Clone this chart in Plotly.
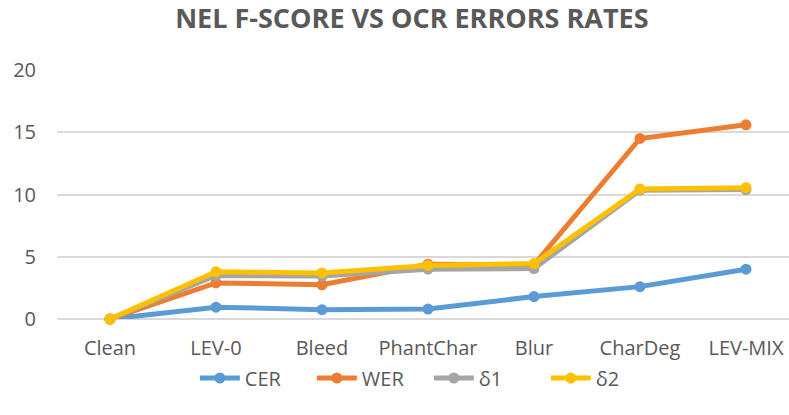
import plotly.graph_objects as go

categories = ["Clean", "LEV-0", "Bleed", "PhantChar", "Blur", "CharDeg", "LEV-MIX"]
cer = [0.0, 0.95, 0.75, 0.8, 1.8, 2.6, 4.0]
wer = [0.0, 2.9, 2.75, 4.4, 4.35, 14.5, 15.6]
delta1 = [0.0, 3.5, 3.45, 4.0, 4.05, 10.35, 10.4]
delta2 = [0.0, 3.8, 3.7, 4.3, 4.45, 10.45, 10.55]

series = [
    ("CER", cer, "#5B9BD5"),
    ("WER", wer, "#ED7D31"),
    ("δ1", delta1, "#A5A5A5"),
    ("δ2", delta2, "#FFC000"),
]

fig = go.Figure()
for name, vals, color in series:
    fig.add_trace(go.Scatter(
        x=categories, y=vals, name=name, mode="lines+markers",
        line=dict(color=color, width=5),
        marker=dict(color=color, size=11),
        cliponaxis=False,
    ))

font_color = "#595959"
fig.update_layout(
    width=789, height=415,
    paper_bgcolor="white", plot_bgcolor="white",
    margin=dict(l=57, r=0, t=70, b=96),
    title=dict(text="<b>NEL F-SCORE VS OCR ERRORS RATES</b>",
               x=0.522, xanchor="center", y=0.955, yanchor="middle",
               font=dict(family="Open Sans", size=27, color=font_color)),
    font=dict(family="Open Sans", color=font_color),
    showlegend=True,
    legend=dict(orientation="h", x=0.508, xanchor="center", y=-0.237, yanchor="middle",
                font=dict(size=20, color=font_color), itemwidth=40,
                entrywidth=62, entrywidthmode="pixels"),
    xaxis=dict(range=[-0.5, 6.406], showgrid=False, showline=False, zeroline=False,
               tickfont=dict(size=20, color=font_color), ticks="", ticklabelstandoff=15),
    yaxis=dict(range=[0, 20], dtick=5, showgrid=True, gridcolor="#D9D9D9", gridwidth=1.5,
               zeroline=True, zerolinecolor="#D9D9D9", zerolinewidth=1.5,
               showline=False, ticks="",
               tickfont=dict(size=20, color=font_color), ticklabelstandoff=20),
)

fig.write_html("out.html", config={"displayModeBar": False},
               post_script="document.body.style.margin='0';")
